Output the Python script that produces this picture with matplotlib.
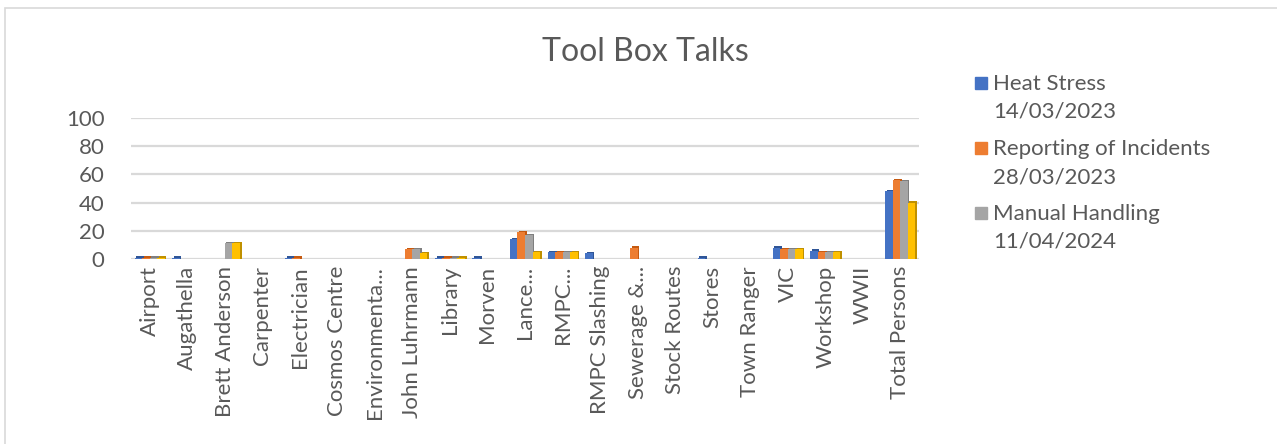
import numpy as np
import matplotlib.pyplot as plt
from matplotlib.patches import Rectangle

plt.rcParams['font.family'] = ['Lato', 'DejaVu Sans']

categories = ['Airport', 'Augathella', 'Brett Anderson', 'Carpenter', 'Electrician',
              'Cosmos Centre', 'Environmenta...', 'John Luhrmann', 'Library', 'Morven',
              'Lance...', 'RMPC...', 'RMPC Slashing', 'Sewerage &...', 'Stock Routes',
              'Stores', 'Town Ranger', 'VIC', 'Workshop', 'WWII', 'Total Persons']

heat_stress = [1, 1, 0, 0, 1, 0, 0, 0, 1, 1, 14, 5, 4, 0, 0, 1, 0, 8, 6, 0, 48]
reporting = [1, 0, 0, 0, 1, 0, 0, 7, 1, 0, 19, 5, 0, 8, 0, 0, 0, 7, 5, 0, 56]
manual_handling = [1, 0, 11, 0, 0, 0, 0, 7, 1, 0, 17, 5, 0, 0, 0, 0, 0, 7, 5, 0, 55]
fourth = [1, 0, 11, 0, 0, 0, 0, 4, 1, 0, 5, 5, 0, 0, 0, 0, 0, 7, 5, 0, 40]

series = [heat_stress, reporting, manual_handling, fourth]
legend_labels = ['Heat Stress\n14/03/2023', 'Reporting of Incidents\n28/03/2023',
                 'Manual Handling\n11/04/2024']
colors = ['#4472C4', '#ED7D31', '#A5A5A5', '#FFC000']
shades = ['#2F5597', '#C55A11', '#7F7F7F', '#BF9000']
text_color = '#595959'

fig = plt.figure(figsize=(12.77, 4.44), dpi=100)
W, H = 1277, 444
# chart frame
fig.patches.append(Rectangle((5 / W, -0.1), 1.1, 1 - 8 / H + 0.1,
                             transform=fig.transFigure, fill=False,
                             edgecolor='#D9D9D9', linewidth=1.2))

ax = fig.add_axes([131 / W, 1 - 259 / H, 788 / W, 141 / H])
x = np.arange(len(categories))
w = 0.2
for i, vals in enumerate(series):
    pos = x + (i - 1.5) * w
    v = np.array(vals, dtype=float)
    mask = v > 0
    # darker face behind each column for a bit of depth
    ax.bar(pos[mask] + 0.045, v[mask] + 0.9, w, color=shades[i], zorder=3)
    ax.bar(pos[mask], v[mask], w, color=colors[i], zorder=4)

ax.set_xlim(-0.5, len(categories) - 0.5)
ax.set_ylim(0, 100)
ax.set_yticks(range(0, 101, 20))
ax.yaxis.grid(True, color='#D9D9D9', linewidth=1.6, zorder=0)
ax.set_axisbelow(True)
for s in ax.spines.values():
    s.set_visible(False)
ax.tick_params(axis='both', length=0, colors=text_color)
ax.tick_params(axis='y', labelsize=16, pad=19)
ax.set_xticks(x)
ax.set_xticklabels(categories, rotation=90, fontsize=16, color=text_color)
ax.tick_params(axis='x', pad=5)

fig.text(645 / W, 1 - 52 / H, 'Tool Box Talks', ha='center', va='center',
         fontsize=23, color=text_color)

# legend: colour square beside the first line of each two-line entry
for i, lab in enumerate(legend_labels):
    top = 76 + i * 65
    fig.patches.append(Rectangle((975 / W, 1 - (top + 13) / H), 12 / W, 12 / H,
                                 transform=fig.transFigure, color=colors[i]))
    fig.text(993 / W, 1 - (top - 2) / H, lab, ha='left', va='top',
             fontsize=16, color=text_color, linespacing=1.5)

fig.savefig('out.png', dpi=100)
